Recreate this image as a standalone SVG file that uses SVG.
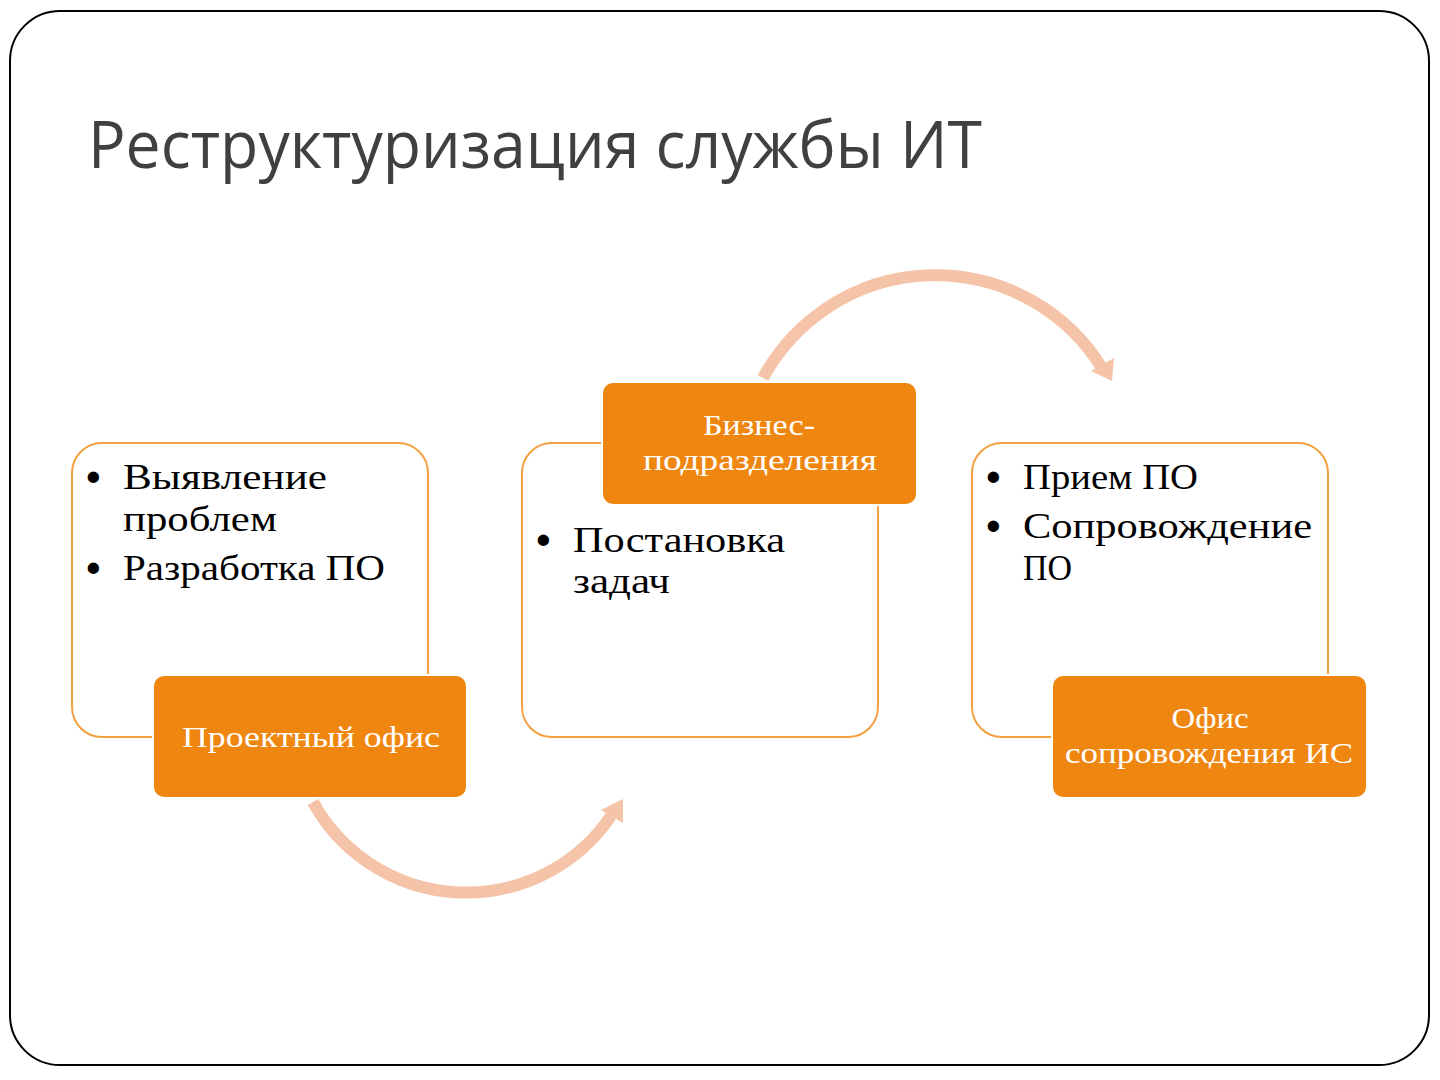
<svg xmlns="http://www.w3.org/2000/svg" width="1440" height="1080" viewBox="0 0 1440 1080">
<style>
.frame{fill:#ffffff;stroke:#000000;stroke-width:2}
.title{font-family:"Open Sans","Liberation Sans",sans-serif;font-size:66px;fill:#404040}
.card{fill:#ffffff;stroke:#F2A040;stroke-width:2}
.tag{fill:#EF8610;stroke:#ffffff;stroke-width:2}
.body{font-family:"Liberation Serif","DejaVu Serif",serif;font-size:36px;fill:#000000}
.bul{font-family:"Liberation Serif","DejaVu Serif",serif;font-size:42px;font-weight:bold;fill:#000000}
.lbl{font-family:"Liberation Serif","DejaVu Serif",serif;font-size:30px;fill:#ffffff;text-anchor:middle}
.arc{fill:none;stroke:#F5C3A7;stroke-width:12}
.head{fill:#F5C3A7}
</style>
<rect class="frame" x="10" y="11" width="1419" height="1054" rx="50" ry="50"/>
<text class="title" x="88" y="168" textLength="894" lengthAdjust="spacingAndGlyphs">Реструктуризация службы ИТ</text>
<g id="connectors">
<path class="arc" d="M313,802 A175,175 0 0 0 611,816"/>
<polygon class="head" points="601,810 623,799 623,823"/>
<path class="arc" d="M763,378 A196,196 0 0 1 1102,368"/>
<polygon class="head" points="1091,371 1114,358 1112,381"/>
</g>
<g id="card-left">
<rect class="card" x="72" y="443" width="356" height="294" rx="30" ry="30"/>
<text class="bul" x="86" y="491">•</text>
<text class="body" x="123" y="489" textLength="204" lengthAdjust="spacingAndGlyphs">Выявление</text>
<text class="body" x="123" y="531" textLength="154" lengthAdjust="spacingAndGlyphs">проблем</text>
<text class="bul" x="86" y="582">•</text>
<text class="body" x="123" y="580" textLength="262" lengthAdjust="spacingAndGlyphs">Разработка ПО</text>
</g>
<g id="tag-left">
<rect class="tag" x="153" y="675" width="314" height="123" rx="11" ry="11"/>
<text class="lbl" x="311" y="747" textLength="258" lengthAdjust="spacingAndGlyphs">Проектный офис</text>
</g>
<g id="card-middle">
<rect class="card" x="522" y="443" width="356" height="294" rx="30" ry="30"/>
<text class="bul" x="536" y="554">•</text>
<text class="body" x="573" y="552" textLength="212" lengthAdjust="spacingAndGlyphs">Постановка</text>
<text class="body" x="573" y="593" textLength="97" lengthAdjust="spacingAndGlyphs">задач</text>
</g>
<g id="tag-middle">
<rect class="tag" x="602" y="382" width="315" height="123" rx="11" ry="11"/>
<text class="lbl" x="759" y="435" textLength="112" lengthAdjust="spacingAndGlyphs">Бизнес-</text>
<text class="lbl" x="760" y="470" textLength="234" lengthAdjust="spacingAndGlyphs">подразделения</text>
</g>
<g id="card-right">
<rect class="card" x="972" y="443" width="356" height="294" rx="30" ry="30"/>
<text class="bul" x="986" y="491">•</text>
<text class="body" x="1023" y="489" textLength="175" lengthAdjust="spacingAndGlyphs">Прием ПО</text>
<text class="bul" x="986" y="540">•</text>
<text class="body" x="1023" y="538" textLength="289" lengthAdjust="spacingAndGlyphs">Сопровождение</text>
<text class="body" x="1023" y="580" textLength="49" lengthAdjust="spacingAndGlyphs">ПО</text>
</g>
<g id="tag-right">
<rect class="tag" x="1052" y="675" width="315" height="123" rx="11" ry="11"/>
<text class="lbl" x="1210" y="728" textLength="77" lengthAdjust="spacingAndGlyphs">Офис</text>
<text class="lbl" x="1209" y="763" textLength="288" lengthAdjust="spacingAndGlyphs">сопровождения ИС</text>
</g>
</svg>
